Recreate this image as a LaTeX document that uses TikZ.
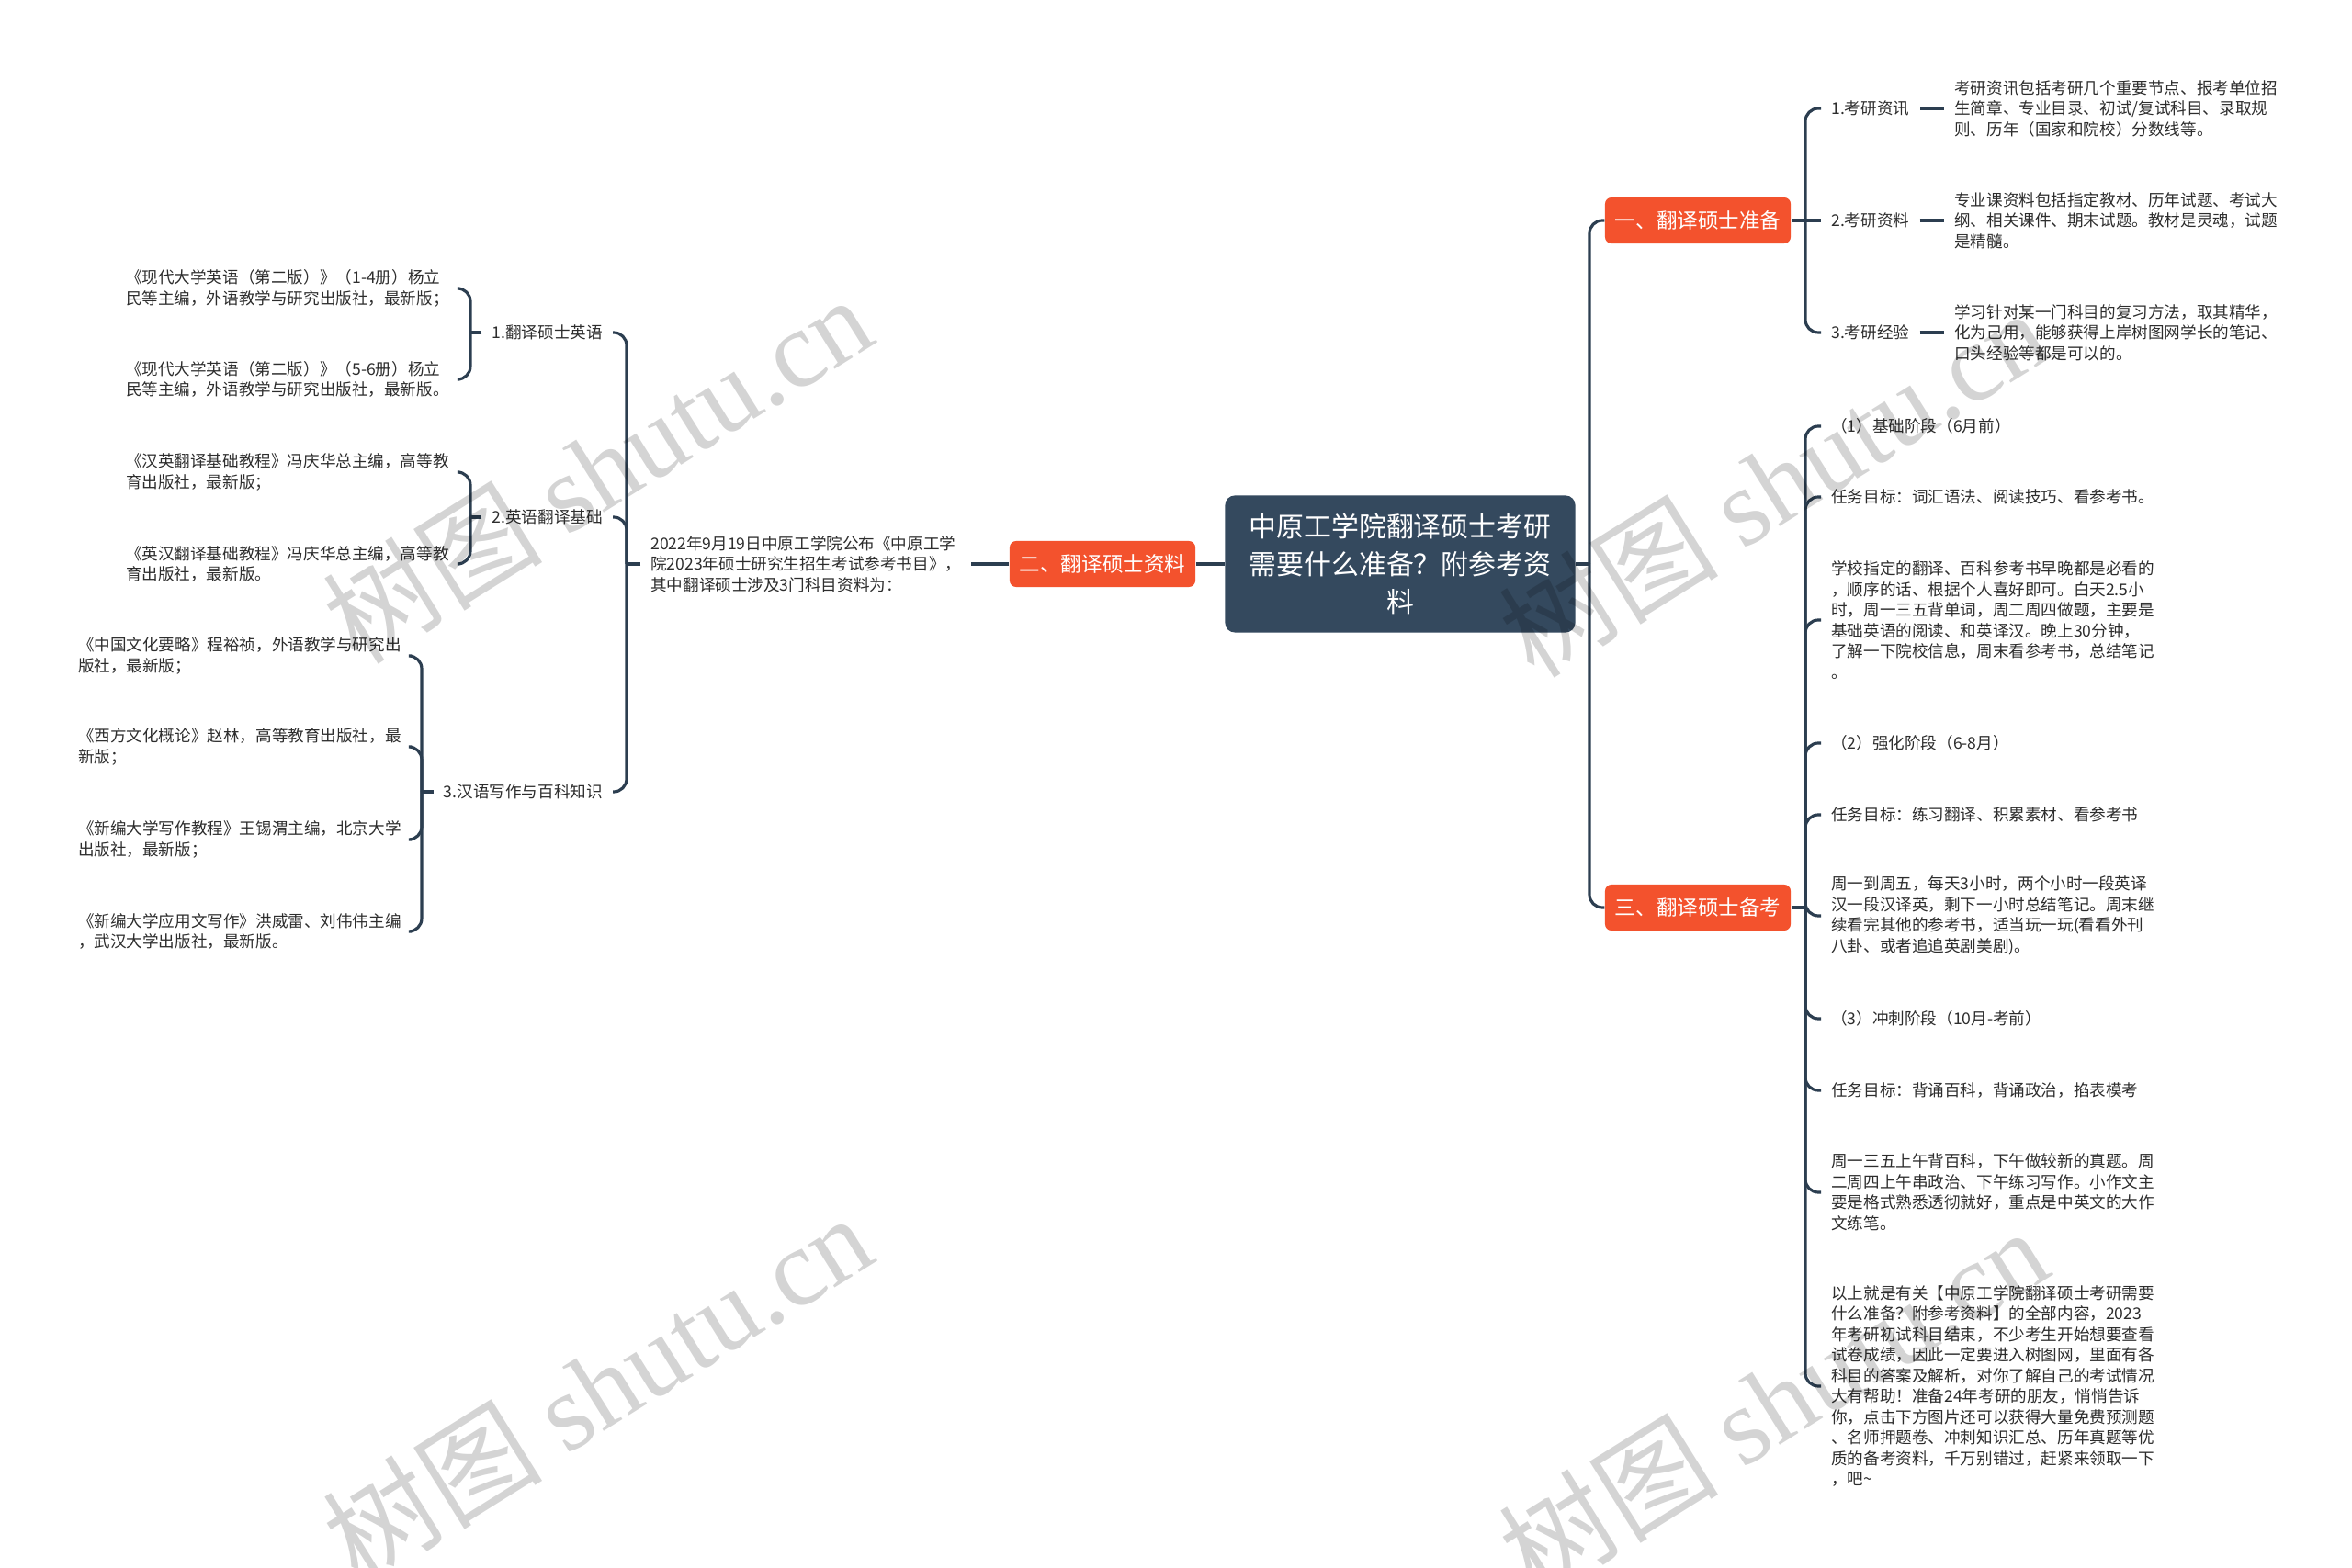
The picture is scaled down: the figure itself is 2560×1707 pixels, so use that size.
\documentclass[tikz,border=0pt]{standalone}
\usepackage{fontspec}
\setmainfont{Noto Sans CJK SC}
\newfontfamily\wmlatin{Liberation Serif}
\usepackage{xcolor}
\usetikzlibrary{positioning}
\definecolor{hubfill}{RGB}{52,73,94}
\definecolor{topicfill}{RGB}{243,82,45}
\definecolor{linkcol}{RGB}{44,62,80}
\definecolor{textcol}{RGB}{45,45,45}

\begin{document}
\begin{tikzpicture}[
  x=0.01cm, y=-0.01cm,
  hub/.style={fill=hubfill, rounded corners=3pt, text=white, align=center,
              inner sep=0pt, minimum width=3.81cm, minimum height=1.49cm,
              font=\fontsize{8.5}{11.7}\selectfont},
  topic/.style={fill=topicfill, rounded corners=2pt, text=white, inner sep=0pt,
                minimum width=2.02cm, minimum height=0.5cm,
                font=\fontsize{6.4}{7.5}\selectfont},
  item/.style={inner sep=3pt, align=left, text=textcol,
               font=\fontsize{5}{6.4}\selectfont},
  link/.style={draw=linkcol, line width=0.9pt, rounded corners=4pt},
  wmark/.style={text=black, opacity=0.17, rotate=32,
                font=\fontsize{34}{38}\selectfont}
]
  \fill[white] (0,0) rectangle (2560,1707);
  \useasboundingbox (0,0) rectangle (2560,1707);

  \node[hub] (root) at (1524,614) {中原工学院翻译硕士考研\\需要什么准备？附参考资\\料};
  \node[topic] (prep) at (1848,240) {一、翻译硕士准备};
  \node[topic] (books) at (1200,614) {二、翻译硕士资料};
  \node[topic] (plan) at (1848,988) {三、翻译硕士备考};

  \draw[link] (root.east) -- (1730,614) coordinate (rj);
  \draw[link] (rj) |- (prep.west);
  \draw[link] (rj) |- (plan.west);
  \draw[link] (books.east) -- (root.west);

  % left side
  \node[item, anchor=west] (intro) at (697,614) {2022年9月19日中原工学院公布《中原工学\\院2023年硕士研究生招生考试参考书目》，\\其中翻译硕士涉及3门科目资料为：};
  \draw[link] (books.west) -- (intro.east);
  \draw[link] (intro.west) -- (682,614) coordinate (lj);

  \node[item, anchor=east] (eng) at (667,362) {1.翻译硕士英语};
  \node[item, anchor=east] (base) at (667,563) {2.英语翻译基础};
  \node[item, anchor=east] (write) at (667,862) {3.汉语写作与百科知识};
  \draw[link] (lj) |- (eng.east);
  \draw[link] (lj) |- (base.east);
  \draw[link] (lj) |- (write.east);

  \node[item, anchor=east] (engA) at (500,314) {《现代大学英语（第二版）》（1-4册）杨立\\民等主编，外语教学与研究出版社，最新版；};
  \node[item, anchor=east] (engB) at (500,413) {《现代大学英语（第二版）》（5-6册）杨立\\民等主编，外语教学与研究出版社，最新版。};
  \draw[link] (eng.west) -- (512,362) coordinate (eb);
  \draw[link] (eb) |- (engA.east);
  \draw[link] (eb) |- (engB.east);

  \node[item, anchor=east] (baseA) at (500,514) {《汉英翻译基础教程》冯庆华总主编，高等教\\育出版社，最新版；};
  \node[item, anchor=east] (baseB) at (500,614) {《英汉翻译基础教程》冯庆华总主编，高等教\\育出版社，最新版。};
  \draw[link] (base.west) -- (512,563) coordinate (bb);
  \draw[link] (bb) |- (baseA.east);
  \draw[link] (bb) |- (baseB.east);

  \node[item, anchor=east] (writeA) at (448,714) {《中国文化要略》程裕祯，外语教学与研究出\\版社，最新版；};
  \node[item, anchor=east] (writeB) at (448,813) {《西方文化概论》赵林，高等教育出版社，最\\新版；};
  \node[item, anchor=east] (writeC) at (448,914) {《新编大学写作教程》王锡渭主编，北京大学\\出版社，最新版；};
  \node[item, anchor=east] (writeD) at (448,1014) {《新编大学应用文写作》洪威雷、刘伟伟主编\\，武汉大学出版社，最新版。};
  \draw[link] (write.west) -- (459,862) coordinate (wb);
  \foreach \leaf in {writeA,writeB,writeC,writeD}
    \draw[link] (wb) |- (\leaf.east);

  % right side, part one
  \node[item, anchor=west] (news) at (1982,118) {1.考研资讯};
  \node[item, anchor=west] (data) at (1982,240) {2.考研资料};
  \node[item, anchor=west] (exp) at (1982,362) {3.考研经验};
  \draw[link] (prep.east) -- (1965,240) coordinate (pb);
  \draw[link] (pb) |- (news.west);
  \draw[link] (pb) -- (data.west);
  \draw[link] (pb) |- (exp.west);

  \node[item, anchor=west] (newsT) at (2116,118) {考研资讯包括考研几个重要节点、报考单位招\\生简章、专业目录、初试/复试科目、录取规\\则、历年（国家和院校）分数线等。};
  \node[item, anchor=west] (dataT) at (2116,240) {专业课资料包括指定教材、历年试题、考试大\\纲、相关课件、期末试题。教材是灵魂，试题\\是精髓。};
  \node[item, anchor=west] (expT) at (2116,362) {学习针对某一门科目的复习方法，取其精华，\\化为己用，能够获得上岸树图网学长的笔记、\\口头经验等都是可以的。};
  \draw[link] (news.east) -- (newsT.west);
  \draw[link] (data.east) -- (dataT.west);
  \draw[link] (exp.east) -- (expT.west);

  % right side, part three
  \node[item, anchor=west] (s1) at (1982,464) {（1）基础阶段（6月前）};
  \node[item, anchor=west] (s2) at (1982,541) {任务目标：词汇语法、阅读技巧、看参考书。};
  \node[item, anchor=west] (s3) at (1982,675) {学校指定的翻译、百科参考书早晚都是必看的\\，顺序的话、根据个人喜好即可。白天2.5小\\时，周一三五背单词，周二周四做题，主要是\\基础英语的阅读、和英译汉。晚上30分钟，\\了解一下院校信息，周末看参考书，总结笔记\\。};
  \node[item, anchor=west] (s4) at (1982,809) {（2）强化阶段（6-8月）};
  \node[item, anchor=west] (s5) at (1982,887) {任务目标：练习翻译、积累素材、看参考书};
  \node[item, anchor=west] (s6) at (1982,997) {周一到周五，每天3小时，两个小时一段英译\\汉一段汉译英，剩下一小时总结笔记。周末继\\续看完其他的参考书，适当玩一玩(看看外刊\\八卦、或者追追英剧美剧)。};
  \node[item, anchor=west] (s7) at (1982,1109) {（3）冲刺阶段（10月-考前）};
  \node[item, anchor=west] (s8) at (1982,1187) {任务目标：背诵百科，背诵政治，掐表模考};
  \node[item, anchor=west] (s9) at (1982,1298) {周一三五上午背百科，下午做较新的真题。周\\二周四上午串政治、下午练习写作。小作文主\\要是格式熟悉透彻就好，重点是中英文的大作\\文练笔。};
  \node[item, anchor=west] (s10) at (1982,1509) {以上就是有关【中原工学院翻译硕士考研需要\\什么准备？附参考资料】的全部内容，2023\\年考研初试科目结束，不少考生开始想要查看\\试卷成绩，因此一定要进入树图网，里面有各\\科目的答案及解析，对你了解自己的考试情况\\大有帮助！准备24年考研的朋友，悄悄告诉\\你，点击下方图片还可以获得大量免费预测题\\、名师押题卷、冲刺知识汇总、历年真题等优\\质的备考资料，千万别错过，赶紧来领取一下\\，吧\textasciitilde};
  \draw[link] (plan.east) -- (1965,988) coordinate (sb);
  \foreach \leaf in {s1,s2,s3,s4,s5,s6,s7,s8,s9,s10}
    \draw[link] (sb) |- (\leaf.west);

  % watermarks
  \node[wmark] (wm1) at (650,510) {树图 {\wmlatin shutu.cn}};
  \node[wmark] (wm2) at (650,1510) {树图 {\wmlatin shutu.cn}};
  \node[wmark] (wm3) at (1930,525) {树图 {\wmlatin shutu.cn}};
  \node[wmark] (wm4) at (1930,1525) {树图 {\wmlatin shutu.cn}};
\end{tikzpicture}
\end{document}
